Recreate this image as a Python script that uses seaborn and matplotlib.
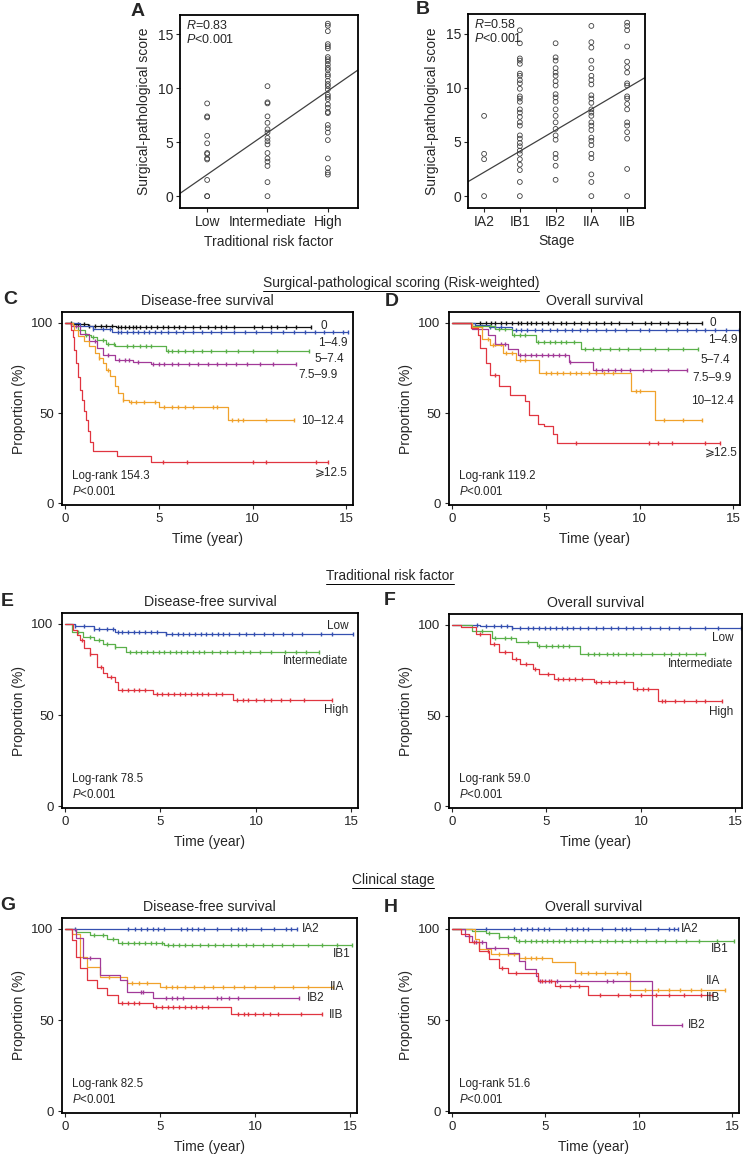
import numpy as np
import pandas as pd
import matplotlib
matplotlib.use("Agg")
import matplotlib.pyplot as plt
import seaborn as sns
from matplotlib.lines import Line2D

sns.set_style("ticks")
plt.rcParams["font.family"] = ["Liberation Sans", "DejaVu Sans"]
plt.rcParams["mathtext.fontset"] = "custom"
plt.rcParams["mathtext.rm"] = "Liberation Sans"
plt.rcParams["mathtext.it"] = "Liberation Sans:italic"

# ---------------- scatter data (A, B) ----------------
risk_levels = ["Low", "Intermediate", "High"]
score_low = [8.6, 7.4, 7.3, 5.6, 4.9, 4.0, 3.9, 3.5, 3.4, 1.5, 0, 0]
score_intermediate = [10.2, 8.7, 8.6, 7.4, 6.8, 6.2, 5.9, 5.4, 5.1, 4.8, 4.0, 3.5, 3.2,
                      2.8, 1.3, 0]
score_high = [16.0, 15.8, 15.3, 14.1, 13.9, 13.7, 12.9, 12.7, 12.5, 12.2, 11.9, 11.7,
              11.3, 11.1, 10.7, 10.4, 10.2, 9.9, 9.4, 9.2, 9.0, 8.5, 8.2, 7.8, 7.7, 6.6,
              6.3, 5.9, 5.2, 3.5, 2.6, 2.2, 2.0]
risk_fit = (2.0, 3.88)  # intercept at "Low", slope per category

stage_levels = ["IA2", "IB1", "IB2", "IIA", "IIB"]
score_ia2 = [7.4, 3.9, 3.4, 0]
score_ib1 = [15.3, 14.1, 12.7, 12.5, 12.2, 11.3, 11.1, 10.7, 10.4, 9.9, 9.2, 9.0, 8.7,
             8.0, 7.7, 7.3, 6.8, 6.5, 5.6, 5.3, 4.9, 4.6, 4.2, 3.9, 3.4, 2.9, 2.4, 1.3, 0]
score_ib2 = [14.1, 12.8, 12.5, 11.8, 11.4, 11.1, 10.6, 10.2, 9.4, 9.1, 8.7, 8.0, 7.4,
             6.8, 6.2, 5.6, 5.2, 3.9, 3.5, 2.8, 1.5]
score_iia = [15.7, 14.2, 13.7, 12.5, 11.8, 11.1, 10.7, 10.3, 9.3, 9.0, 8.6, 8.0, 7.7,
             7.4, 6.8, 6.5, 6.1, 5.4, 5.1, 4.7, 3.9, 3.5, 2.0, 1.3, 0]
score_iib = [16.0, 15.7, 15.3, 13.8, 12.4, 11.9, 11.4, 10.4, 10.2, 9.2, 9.0, 8.5, 8.0,
             6.8, 6.5, 5.9, 5.3, 2.5, 0]
stage_fit = (2.2, 1.94)

# ---------------- Kaplan-Meier data ----------------
BLACK, BLUE, GREEN, PURPLE, ORANGE, RED = ("#111111", "#3550b0", "#5ab04a",
                                          "#a23a98", "#f0a22c", "#e03540")

score_groups = ["0", "1–4.9", "5–7.4", "7.5–9.9", "10–12.4", "⩾12.5"]
score_colors = [BLACK, BLUE, GREEN, PURPLE, ORANGE, RED]

C_times = [[0, 0.5, 1.2, 2.7],
           [0, 0.8, 1.5, 2.5],
           [0, 0.4, 0.7, 1.06, 1.4, 1.7, 2.2, 2.65, 5.4],
           [0, 0.3, 0.8, 1.3, 1.7, 2.0, 2.65, 3.6, 4.6],
           [0, 0.4, 0.5, 0.7, 1.0, 1.3, 1.6, 1.8, 2.0, 2.2, 2.4, 2.65, 2.8, 3.1, 3.4, 5.0, 8.7],
           [0, 0.3, 0.4, 0.5, 0.6, 0.7, 0.8, 0.9, 1.0, 1.1, 1.25, 1.35, 1.5, 2.75, 4.6]]
C_surv = [[100, 99.2, 98.5, 97.8],
          [100, 98, 96.5, 94.8],
          [100, 98, 96, 93.5, 92, 90.7, 88, 87, 84.3],
          [100, 98, 94, 90, 86, 82.4, 79.6, 78.1, 76.9],
          [100, 99, 96, 92.6, 90, 87, 83.3, 80.5, 77.8, 74, 70.4, 64.8, 61, 57.4, 56, 53.1, 46.3],
          [100, 96, 92, 85, 78, 70, 63, 57, 51, 46, 40, 34, 29.2, 25.9, 22.6]]
C_end = [13.1, 15.1, 13.0, 12.3, 12.2, 14.0]
C_cens = [[0.3, 0.7, 1.0, 1.3, 1.6, 1.9, 2.2, 2.5, 2.8, 3.0, 3.2, 3.4, 3.6, 3.8, 4.0, 4.3,
           4.6, 4.9, 5.2, 5.5, 5.8, 6.1, 6.4, 6.8, 7.2, 7.6, 8.0, 8.3, 8.6, 9.0, 10.1, 10.5,
           11.0, 11.3, 11.8, 12.3, 13.1],
          [1.5, 2.0, 2.4, 2.8, 3.0, 3.3, 3.6, 3.9, 4.2, 4.5, 4.8, 5.1, 5.5, 5.9, 6.3, 6.8,
           7.3, 7.8, 8.3, 9.0, 9.6, 10.2, 11.0, 11.6, 12.2, 12.8, 13.3, 13.8, 14.3, 14.8, 15.1],
          [1.1, 1.5, 2.0, 2.3, 2.6, 3.3, 3.6, 4.0, 4.3, 4.6, 5.5, 5.7, 6.0, 6.4, 6.8, 7.3,
           7.8, 8.6, 9.2, 10.0, 11.3, 13.0],
          [0.6, 1.6, 2.3, 2.9, 3.2, 3.4, 3.9, 4.7, 5.0, 5.3, 5.7, 6.0, 6.6, 7.1, 7.6, 8.1,
           8.6, 9.1, 9.7, 10.4, 11.1, 12.3],
          [1.8, 2.3, 3.1, 3.5, 3.8, 4.2, 4.8, 5.3, 5.7, 6.0, 6.4, 6.8, 7.9, 8.1, 8.9, 9.2,
           9.5, 10.7, 12.2],
          [5.2, 6.5, 10.0, 10.7, 13.4, 14.0]]

D_times = [[0],
           [0, 1.2, 1.96, 3.2],
           [0, 1.07, 2.3, 3.2, 4.5, 6.9],
           [0, 1.07, 1.9, 2.3, 3.0, 3.5, 6.25, 7.5],
           [0, 1.07, 1.6, 2.05, 2.7, 3.4, 4.64, 9.55, 10.8],
           [0, 1.0, 1.4, 1.5, 1.8, 2.0, 2.5, 3.1, 3.9, 4.1, 4.6, 4.9, 5.4, 5.6]]
D_surv = [[100],
          [100, 98.8, 97.6, 95.8],
          [100, 98.5, 96.7, 93, 89.4, 85.7],
          [100, 96.7, 93, 88.5, 85.7, 82, 78.4, 73.8],
          [100, 97.6, 91.2, 87.5, 83, 79.3, 72, 62, 46.3],
          [100, 97, 93, 86, 78, 71, 65, 60, 56.5, 49, 44, 42.6, 38.5, 33.5]]
D_end = [13.3, 15.3, 13.1, 12.5, 13.3, 14.3]
D_cens = [[1.5, 1.8, 2.1, 2.3, 2.6, 2.9, 3.2, 3.5, 3.7, 4.0, 4.2, 4.5, 4.8, 5.1, 5.4, 5.8,
           6.1, 6.5, 6.9, 7.3, 7.7, 8.1, 8.5, 8.9, 9.6, 10.3, 10.6, 11.1, 11.5, 12.1, 12.5, 13.3],
          [2.0, 2.3, 2.6, 3.4, 3.7, 4.0, 4.4, 4.8, 5.2, 5.6, 6.0, 6.4, 6.8, 7.2, 7.7, 8.2,
           8.7, 9.3, 10.0, 10.5, 11.4, 12.0, 12.5, 13.0, 13.5, 14.0, 14.6, 15.3],
          [1.2, 1.6, 2.0, 2.5, 2.8, 3.3, 3.6, 3.9, 4.6, 4.9, 5.2, 5.5, 5.8, 6.1, 6.5, 7.1,
           7.5, 7.9, 8.4, 8.9, 9.4, 10.0, 10.8, 11.5, 12.3, 13.1],
          [2.3, 2.6, 2.8, 3.6, 3.9, 4.2, 4.5, 4.8, 5.1, 5.4, 5.7, 6.0, 6.3, 7.7, 8.0, 8.3,
           8.7, 9.0, 9.5, 10.2, 10.6, 11.5, 12.5],
          [1.9, 2.2, 2.9, 3.2, 3.6, 3.9, 5.0, 5.3, 5.6, 5.9, 6.3, 6.6, 6.9, 7.3, 7.7, 8.1,
           8.6, 9.8, 10.0, 11.3, 12.3, 13.3],
          [2.3, 6.6, 10.5, 11.0, 11.7, 13.5, 14.3]]

risk_colors = [BLUE, GREEN, RED]
E_times = [[0, 0.5, 1.5, 2.6, 5.3],
           [0, 0.35, 0.96, 1.5, 2.0, 2.6, 3.2],
           [0, 0.4, 0.6, 0.8, 1.0, 1.3, 1.66, 2.0, 2.2, 2.6, 2.8, 4.6, 8.8]]
E_surv = [[100, 98.8, 97.3, 95.5, 94.5],
          [100, 95.5, 92.7, 91, 89, 87.3, 84.5],
          [100, 96.4, 94, 91, 87, 83.6, 76.4, 73, 71, 68, 64, 61.8, 58.2]]
E_end = [15.1, 13.3, 14.0]
E_cens = [[0.5, 1.0, 1.5, 1.8, 2.2, 2.5, 2.8, 3.0, 3.3, 3.6, 3.9, 4.2, 4.5, 4.8, 5.3, 5.6,
           5.9, 6.2, 6.5, 6.8, 7.1, 7.4, 7.7, 8.0, 8.3, 8.6, 9.1, 9.5, 9.9, 10.4, 10.9,
           11.4, 11.9, 12.4, 13.4, 14.0, 15.1],
          [0.7, 1.3, 1.8, 2.2, 2.6, 3.4, 3.7, 4.0, 4.3, 4.6, 4.9, 5.2, 5.5, 5.8, 6.1, 6.4,
           6.7, 7.0, 7.3, 7.7, 8.1, 8.5, 8.9, 9.3, 9.7, 10.2, 10.8, 11.5, 12.1, 12.6, 13.3],
          [0.9, 1.3, 1.9, 2.4, 3.0, 3.3, 3.6, 3.9, 4.2, 4.8, 5.1, 5.4, 5.7, 6.0, 6.3, 6.6,
           6.9, 7.2, 7.5, 7.9, 8.2, 9.0, 9.3, 9.6, 10.0, 10.4, 10.8, 11.3, 11.8, 12.5, 14.0]]

F_times = [[0, 1.5, 3.2],
           [0, 1.07, 2.1, 3.4, 4.5, 6.8],
           [0, 0.5, 1.25, 2.0, 2.5, 3.2, 3.6, 4.3, 4.6, 5.4, 7.5, 9.6, 10.9]]
F_surv = [[100, 99.3, 98.5],
          [100, 96.7, 93, 90.4, 88.5, 84],
          [100, 99, 95, 89.5, 84.9, 81.3, 78.5, 75.8, 72.7, 70.4, 68.5, 64.9, 58.2]]
F_end = [15.35, 13.4, 14.3]
F_cens = [[1.3, 1.8, 2.2, 2.6, 2.9, 3.2, 3.6, 4.0, 4.3, 4.6, 4.9, 5.2, 5.5, 5.8, 6.1, 6.4,
           6.8, 7.2, 7.6, 8.0, 8.4, 8.8, 9.2, 9.6, 10.0, 10.5, 11.0, 11.5, 12.0, 12.6, 13.4,
           14.1, 15.3],
          [1.6, 2.3, 2.8, 3.1, 4.0, 4.6, 5.0, 5.3, 5.6, 5.9, 6.2, 7.2, 7.5, 7.8, 8.2, 8.5,
           8.8, 9.2, 9.6, 10.0, 10.6, 11.2, 11.6, 12.0, 12.4, 12.9, 13.4],
          [1.5, 2.2, 2.8, 3.4, 3.9, 4.4, 5.1, 5.6, 5.9, 6.2, 6.5, 6.9, 7.6, 7.9, 8.3, 8.7,
           9.1, 9.8, 10.1, 10.4, 11.1, 11.3, 11.8, 12.3, 12.9, 13.4, 14.3]]

# stage order: IA2, IB1, IIA, IB2, IIB
stage_colors = [BLUE, GREEN, ORANGE, PURPLE, RED]
G_times = [[0],
           [0, 0.6, 1.3, 2.2, 2.8, 5.2],
           [0, 0.35, 0.8, 1.15, 1.85, 3.26, 5.0],
           [0, 0.6, 0.97, 1.85, 2.9, 3.26, 4.6],
           [0, 0.35, 0.6, 0.8, 1.15, 1.68, 2.2, 2.8, 4.6, 8.7]]
G_surv = [[100],
          [100, 98.5, 96.7, 94.3, 92.1, 91.2],
          [100, 97, 84.8, 79.3, 73.8, 70.5, 68.3],
          [100, 95, 83.9, 74.7, 72, 65.6, 61.9],
          [100, 94, 84.8, 78.4, 72, 67.4, 63.7, 59.2, 57.3, 53.1]]
G_end = [12.2, 15.1, 14.1, 12.3, 13.5]
G_cens = [[0.5, 3.3, 3.7, 4.0, 4.3, 4.6, 4.9, 5.2, 6.1, 6.4, 6.7, 7.0, 7.3, 8.0, 8.7, 9.1,
           9.3, 9.5, 10.3, 11.0, 11.6, 11.9, 12.2],
          [1.5, 2.0, 2.5, 3.0, 3.3, 3.6, 3.9, 4.2, 4.5, 4.8, 5.1, 5.4, 5.7, 6.0, 6.3, 6.7,
           7.1, 7.5, 7.9, 8.3, 8.7, 9.1, 9.5, 9.9, 10.4, 10.9, 11.4, 12.0, 12.8, 13.5, 14.3, 15.1],
          [2.3, 3.5, 3.9, 4.3, 5.3, 5.6, 5.9, 6.3, 6.8, 7.3, 7.8, 8.3, 8.9, 9.4, 10.0, 11.0,
           12.0, 12.8, 14.1],
          [1.3, 4.0, 4.1, 5.3, 5.6, 5.9, 6.2, 8.0, 8.2, 8.6, 9.1, 12.3],
          [3.0, 3.3, 3.6, 3.9, 4.8, 5.1, 5.4, 5.7, 6.0, 6.3, 6.6, 6.9, 7.2, 7.5, 9.1, 9.4,
           9.6, 10.0, 10.4, 10.8, 11.2, 12.4, 13.5]]

H_times = [[0],
           [0, 1.07, 1.8, 2.5, 3.4],
           [0, 1.25, 1.43, 2.1, 3.6, 5.36, 6.6, 9.5],
           [0, 0.7, 1.07, 1.8, 3.0, 3.6, 3.9, 4.5, 4.6, 10.7],
           [0, 0.5, 0.9, 1.43, 2.0, 2.5, 3.0, 4.6, 5.5, 7.3]]
H_surv = [[100],
          [100, 99, 97.8, 95.4, 93.5],
          [100, 94.4, 88.9, 86.1, 84.3, 81.9, 75.9, 66.7],
          [100, 96, 92.6, 89.8, 87, 82.4, 77.8, 74, 71.3, 47.2],
          [100, 97.2, 92.6, 88, 83.3, 78.7, 76, 71.3, 68.5, 63.9]]
H_end = [12.1, 15.1, 14.6, 12.3, 13.9]
H_cens = [[1.8, 3.3, 3.7, 4.0, 4.3, 4.6, 4.9, 5.2, 6.1, 6.4, 6.7, 7.0, 7.3, 8.0, 8.7, 9.1,
           9.3, 9.5, 10.3, 11.0, 11.6, 11.9, 12.1],
          [2.0, 2.5, 3.0, 3.3, 3.6, 3.9, 4.2, 4.5, 4.8, 5.1, 5.4, 5.7, 6.0, 6.3, 6.7, 7.1,
           7.5, 7.9, 8.3, 8.7, 9.1, 9.5, 9.9, 10.4, 10.9, 11.4, 12.0, 12.5, 13.2, 14.2, 15.1],
          [2.5, 3.0, 3.3, 3.9, 4.2, 4.5, 4.8, 6.9, 7.3, 7.7, 8.2, 8.8, 9.3, 10.3, 11.0, 11.6,
           12.2, 12.8, 13.3, 14.6],
          [0.9, 1.3, 1.6, 2.3, 4.7, 5.0, 5.2, 5.6, 6.6, 8.3, 8.6, 12.3],
          [1.2, 1.9, 2.7, 3.4, 4.8, 5.3, 5.8, 6.3, 6.8, 7.9, 8.9, 9.5, 10.1, 10.9, 11.6,
           12.4, 13.3, 13.9]]

# curve end labels: (text, x, y, ha)
C_labels = [("0", 13.6, 98.5, "left"), ("1–4.9", 15.08, 89, "right"),
            ("5–7.4", 14.9, 80, "right"), ("7.5–9.9", 14.55, 71.3, "right"),
            ("10–12.4", 12.6, 45.3, "left"), ("⩾12.5", 15.08, 16.8, "right")]
D_labels = [("0", 13.75, 100, "left"), ("1–4.9", 15.2, 90.3, "right"),
            ("5–7.4", 14.8, 79.3, "right"), ("7.5–9.9", 14.9, 69.2, "right"),
            ("10–12.4", 15.0, 56.4, "right"), ("⩾12.5", 15.25, 28, "right")]
E_labels = [("Low", 14.85, 99, "right"), ("Intermediate", 14.85, 79.4, "right"),
            ("High", 14.85, 52.6, "right")]
F_labels = [("Low", 14.9, 92.7, "right"), ("Intermediate", 14.9, 78.5, "right"),
            ("High", 14.9, 51.7, "right")]
G_labels = [("IA2", 12.43, 100, "left"), ("IB1", 15.0, 86.3, "right"),
            ("IIA", 13.9, 68.3, "left"), ("IB2", 12.7, 61.9, "left"),
            ("IIB", 13.85, 52.7, "left")]
H_labels = [("IA2", 12.23, 100, "left"), ("IB1", 14.82, 88.9, "right"),
            ("IIA", 14.37, 71.3, "right"), ("IIB", 14.37, 62, "right"),
            ("IB2", 12.6, 47.2, "left")]
logrank = {"C": "154.3", "D": "119.2", "E": "78.5", "F": "59.0", "G": "82.5", "H": "51.6"}

W, H = 744, 1154
fig = plt.figure(figsize=(W / 100, H / 100), dpi=100)


def add_ax(l, t, r, b):
    return fig.add_axes([l / W, 1 - b / H, (r - l) / W, (b - t) / H])


def frame(ax, size, pad=2):
    for sp in ax.spines.values():
        sp.set_visible(True)
        sp.set_linewidth(1.3)
        sp.set_color("black")
    ax.tick_params(direction="out", length=3, width=0.8, labelsize=size, pad=pad,
                   top=False, right=False)


def scatter_panel(ax, groups, levels, fit, xlabel, rtxt):
    df = pd.DataFrame({"x": np.concatenate([[i] * len(g) for i, g in enumerate(groups)]),
                       "y": np.concatenate(groups)})
    sns.scatterplot(data=df, x="x", y="y", marker="o", s=12, facecolor="none",
                    edgecolor="0.25", linewidth=0.6, ax=ax)
    ax.axline((0, fit[0]), slope=fit[1], color="0.25", lw=0.9)
    ax.set_xlim(-0.45, len(levels) - 1 + 0.5)
    ax.set_ylim(-1.1, 16.8)
    ax.set_xticks(range(len(levels)))
    ax.set_xticklabels(levels)
    ax.set_yticks([0, 5, 10, 15])
    frame(ax, 10)
    ax.set_xlabel(xlabel, fontsize=10, labelpad=4)
    ax.set_ylabel("Surgical-pathological score", fontsize=10, labelpad=5)
    ax.text(0.035, 0.945, "$R$=" + rtxt, transform=ax.transAxes, fontsize=9, va="center")
    ax.text(0.035, 0.875, "$P$<0.001", transform=ax.transAxes, fontsize=9, va="center")


def km_panel(ax, times, surv, ends, cens, colors, labels, title, lr):
    for t, s, e, c, col in zip(times, surv, ends, cens, colors):
        tt = list(t) + [e]
        ss = list(s) + [s[-1]]
        sns.lineplot(x=tt, y=ss, drawstyle="steps-post", color=col, lw=0.9,
                     estimator=None, sort=False, ax=ax)
        idx = np.searchsorted(np.array(t), np.array(c), side="right") - 1
        cy = np.array(s)[idx]
        sns.scatterplot(x=c, y=cy, marker="|", s=6, color=col, linewidth=1.0, ax=ax)
    for txt, x, y, ha in labels:
        ax.text(x, y, txt, fontsize=8.5, ha=ha, va="center", color="0.15")
    ax.text(0.35, 15, "Log-rank " + lr, fontsize=8.3, va="center")
    ax.text(0.35, 6.5, "$P$<0.001", fontsize=8.3, va="center")
    ax.set_xlim(-0.16, 15.35)
    ax.set_ylim(-1, 106)
    ax.set_xticks([0, 5, 10, 15])
    ax.set_yticks([0, 50, 100])
    frame(ax, 9.5, pad=3)
    ax.set_title(title, fontsize=10.2, pad=5)
    ax.set_xlabel("Time (year)", fontsize=10, labelpad=5)
    ax.set_ylabel("Proportion (%)", fontsize=10, labelpad=4)


axA = add_ax(180, 15, 358, 208)
scatter_panel(axA, [score_low, score_intermediate, score_high], risk_levels, risk_fit,
              "Traditional risk factor", "0.83")
axB = add_ax(468, 14, 645, 208)
scatter_panel(axB, [score_ia2, score_ib1, score_ib2, score_iia, score_iib], stage_levels,
              stage_fit, "Stage", "0.58")

axC = add_ax(62, 312, 353, 505)
km_panel(axC, C_times, C_surv, C_end, C_cens, score_colors, C_labels,
         "Disease-free survival", logrank["C"])
axD = add_ax(449, 312, 740, 505)
km_panel(axD, D_times, D_surv, D_end, D_cens, score_colors, D_labels,
         "Overall survival", logrank["D"])
axE = add_ax(62, 613, 358, 808)
km_panel(axE, E_times, E_surv, E_end, E_cens, risk_colors, E_labels,
         "Disease-free survival", logrank["E"])
axF = add_ax(449, 614, 742, 808)
km_panel(axF, F_times, F_surv, F_end, F_cens, risk_colors, F_labels,
         "Overall survival", logrank["F"])
axG = add_ax(62, 918, 357, 1113)
km_panel(axG, G_times, G_surv, G_end, G_cens, stage_colors, G_labels,
         "Disease-free survival", logrank["G"])
axH = add_ax(449, 918, 739, 1113)
km_panel(axH, H_times, H_surv, H_end, H_cens, stage_colors, H_labels,
         "Overall survival", logrank["H"])

# panel letters
for letter, x, y in [("A", 138, 12), ("B", 423, 10), ("C", 10, 300), ("D", 392, 302),
                     ("E", 7, 601), ("F", 390, 600), ("G", 8, 905), ("H", 391, 907)]:
    fig.text(x / W, 1 - y / H, letter, fontsize=14, fontweight="bold", ha="center",
             va="center")

# underlined section headers
headers = []
for txt, x, y in [("Surgical-pathological scoring (Risk-weighted)", 401, 283),
                  ("Traditional risk factor", 390, 576), ("Clinical stage", 393, 880)]:
    headers.append(fig.text(x / W, 1 - y / H, txt, fontsize=9.9, ha="center", va="center"))

fig.canvas.draw()
renderer = fig.canvas.get_renderer()
for t in headers:
    bb = t.get_window_extent(renderer)
    yy = (bb.y0 - 0.5) / fig.bbox.height
    fig.add_artist(Line2D([bb.x0 / fig.bbox.width, bb.x1 / fig.bbox.width], [yy, yy],
                          transform=fig.transFigure, color="black", lw=0.7))

fig.savefig("out.png", dpi=100)
